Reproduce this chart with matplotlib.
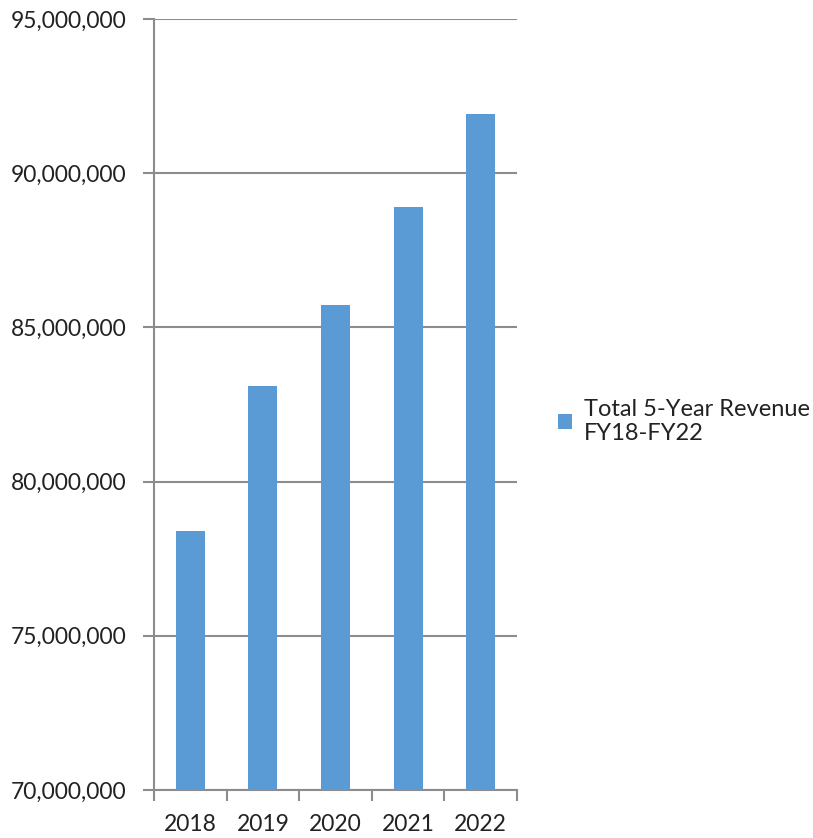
import matplotlib
matplotlib.use("Agg")
import matplotlib.pyplot as plt
from matplotlib.ticker import FuncFormatter, FixedLocator
from matplotlib.patches import Patch

years = ["2018", "2019", "2020", "2021", "2022"]
revenue = [78400000, 83110000, 85730000, 88910000, 91910000]
series_name = "Total 5-Year Revenue\nFY18-FY22"
y_ticks = [70000000, 75000000, 80000000, 85000000, 90000000, 95000000]

plt.rcParams['font.family'] = ['Lato', 'DejaVu Sans']
bar_color = "#5B9BD5"
grid_color = "#8C8C8C"

fig = plt.figure(figsize=(8.13, 8.38), dpi=100)
ax = fig.add_axes([0.1894, 0.0573, 0.4466, 0.9200])

x = list(range(len(years)))
ax.bar(x, revenue, width=0.40, color=bar_color, zorder=3)

ax.set_ylim(70000000, 95000000)
ax.set_xlim(-0.5, len(years) - 0.5)
ax.yaxis.set_major_locator(FixedLocator(y_ticks))
ax.yaxis.set_major_formatter(FuncFormatter(lambda v, p: f"{int(v):,}"))
ax.grid(axis='y', color=grid_color, linewidth=1.5, zorder=0)

ax.set_xticks(x)
ax.set_xticklabels(years)
ax.set_xticks([i - 0.5 for i in range(len(years) + 1)], minor=True)
ax.tick_params(axis='x', which='major', length=0, pad=17, labelsize=16.5, labelcolor='#222222')
ax.tick_params(axis='x', which='minor', length=8, width=1.5, color=grid_color, direction='out')
ax.tick_params(axis='y', length=8, width=1.5, color=grid_color, pad=12, labelsize=16.5, labelcolor='#222222')

for s in ['top', 'right']:
    ax.spines[s].set_visible(False)
for s in ['left', 'bottom']:
    ax.spines[s].set_color(grid_color)
    ax.spines[s].set_linewidth(1.5)

handle = Patch(facecolor=bar_color, edgecolor='none')
fig.legend([handle], [series_name], loc='center left', bbox_to_anchor=(0.686, 0.497),
           frameon=False, fontsize=17, handlelength=0.6, handleheight=0.6,
           handletextpad=0.5, labelcolor='#222222', borderaxespad=0, borderpad=0)

fig.savefig("out.png", dpi=100)
